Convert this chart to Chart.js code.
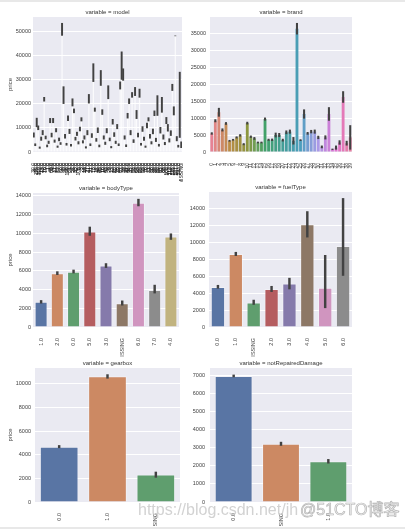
<!DOCTYPE html>
<html>
<head>
<meta charset="utf-8">
<script src="https://cdn.jsdelivr.net/npm/chart.js@4.4.1/dist/chart.umd.min.js"></script>
<style>
  body { margin: 0; background: #fff; width: 405px; height: 529px; position: relative; overflow: hidden; }
  canvas { position: absolute; }
  .strip { position: absolute; left: 0; width: 405px; background: #e8e8e8; }
  .wm { position: absolute; font-size: 16px; line-height: 16px; white-space: nowrap; }
</style>
</head>
<body>
<div class="strip" style="top:0;height:2px"></div>
<canvas id="c-model"></canvas>
<canvas id="c-brand"></canvas>
<canvas id="c-bodyType"></canvas>
<canvas id="c-fuelType"></canvas>
<canvas id="c-gearbox"></canvas>
<canvas id="c-damage"></canvas>
<div class="wm" style="left:138px;top:502px;font-family:'Liberation Sans',Arial,sans-serif;color:rgba(205,205,205,0.9)">https://blog.csdn.net/jh</div>
<div class="wm" style="left:300px;top:502px;font-family:'Liberation Sans','Noto Sans CJK SC',sans-serif;color:#f2f2f2;-webkit-text-stroke:0.7px #b5b5b5">@51CTO博客</div>
<div class="strip" style="top:527px;height:2px"></div>
<script>
const modelLabels = [
  '30.0','40.0','115.0','109.0','110.0','24.0','13.0','26.0','19.0','7.0',
  '1.0','48.0','65.0','4.0','31.0','17.0','29.0','57.0','8.0','60.0',
  '49.0','0.0','66.0','136.0','61.0','5.0','52.0','25.0','33.0','42.0',
  '105.0','6.0','3.0','22.0','14.0','44.0','27.0','11.0','51.0','37.0',
  '18.0','2.0','12.0','45.0','46.0','63.0','16.0','10.0','43.0','58.0',
  '34.0','9.0','15.0','23.0','20.0','62.0','28.0','32.0','67.0','73.0',
  '39.0','38.0','21.0','47.0','36.0','35.0','41.0','50.0','54.0','64.0',
  '55.0','69.0','85.0','56.0','53.0','76.0','70.0','71.0','83.0','78.0',
  '90.0','99.0','86.0','80.0','84.0','95.0','91.0','88.0','98.0','100.0',
  '104.0','112.0','119.0','126.0','141.0','157.0','167.0','193.0','247.0','MISSING'
]
const modelMean = [
  7000, 3000, 12200, 10000, 1800, 5500, 8000, 21800, 6000, 2500,
  4000, 13000, 7000, 13000, 4500, 9000, 2200, 5200, 3500, 50700,
  23500, 6500, 3200, 14000, 8500, 2800, 20500, 17000, 5500, 7500,
  3800, 9500, 13500, 4200, 6000, 1900, 8000, 22000, 3000, 6800,
  32800, 17500, 5000, 9000, 2500, 30600, 16500, 6000, 3600, 8800,
  24700, 5200, 2000, 12500, 7200, 4000, 10500, 3000, 27500, 35700,
  32000, 6000, 2600, 15000, 21000, 8000, 23600, 4500, 25000, 15500,
  7000, 24300, 3200, 9500, 5500, 2200, 11000, 13500, 6500, 3800,
  8500, 16000, 5000, 19200, 2800, 9000, 19500, 6200, 3500, 13000,
  10000, 4800, 7800, 26700, 17000, 48000, 5500, 2400, 19500, 3000
]
const modelErr = [
  900, 400, 1800, 800, 300, 700, 900, 800, 600, 400,
  500, 900, 800, 900, 500, 700, 300, 600, 400, 2500,
  3500, 800, 400, 1000, 900, 400, 1500, 800, 600, 700,
  500, 800, 700, 500, 700, 300, 900, 1800, 400, 800,
  3700, 700, 600, 1000, 400, 3100, 1000, 700, 500, 900,
  2700, 600, 300, 1000, 800, 500, 900, 400, 1500, 5700,
  2400, 700, 400, 1000, 1000, 900, 1000, 600, 1700, 1700,
  800, 1700, 400, 1000, 700, 300, 1000, 700, 800, 500,
  1000, 1000, 700, 4100, 400, 1200, 3100, 900, 500, 1300,
  1400, 700, 1000, 1300, 1700, 0, 900, 400, 13500, 1200
]
const modelTicks = [0, 10000, 20000, 30000, 40000, 50000]

const brandLabels = [
  '0','1','2','3','4','5','6','7','8','9',
  '10','11','12','13','14','15','16','17','18','19',
  '20','21','22','23','24','25','26','27','28','29',
  '30','31','32','33','34','35','36','37','38','39'
]
const brandMean = [
  5450, 9200, 11700, 6500, 8400, 3300, 3600, 4300, 4900, 2300,
  8500, 4500, 4000, 2800, 2800, 9700, 3600, 3600, 5000, 5000,
  3500, 5800, 6000, 3300, 36300, 3500, 11200, 5500, 6000, 6000,
  4300, 1500, 4300, 11200, 800, 1300, 2800, 16200, 2600, 4300
]
const brandErr = [
  250, 350, 1200, 350, 300, 150, 150, 200, 250, 200,
  300, 250, 300, 150, 150, 350, 200, 250, 600, 500,
  300, 450, 500, 1000, 1600, 150, 1250, 300, 400, 500,
  400, 300, 500, 1900, 100, 500, 550, 1600, 600, 3500
]
const brandTicks = [0, 5000, 10000, 15000, 20000, 25000, 30000, 35000]

const bodyTypeLabels = ['1.0', '2.0', '0.0', '5.0', '3.0', 'MISSING', '6.0', '7.0', '4.0']
const bodyTypeMean = [2690, 5730, 5900, 10200, 6550, 2540, 13250, 3940, 9670]
const bodyTypeLo = [2540, 5585, 5760, 9770, 6340, 2330, 12920, 3620, 9340]
const bodyTypeHi = [2830, 5905, 6085, 10670, 6770, 2790, 13640, 4470, 9950]
const bodyTypeTicks = [0, 2000, 4000, 6000, 8000, 10000, 12000, 14000]

const fuelTypeLabels = ['0.0', '1.0', 'MISSING', '2.0', '3.0', '4.0', '5.0', '6.0']
const fuelTypeMean = [4730, 8630, 2900, 4490, 5130, 12130, 4650, 9580]
const fuelTypeLo = [4570, 8430, 2660, 4180, 4490, 10620, 2270, 6090]
const fuelTypeHi = [4930, 8830, 3180, 4810, 5770, 13640, 8470, 15190]
const fuelTypeTicks = [0, 2000, 4000, 6000, 8000, 10000, 12000, 14000]

const gearboxLabels = ['0.0', '1.0', 'MISSING']
const gearboxMean = [4680, 10650, 2330]
const gearboxLo = [4590, 10480, 2090]
const gearboxHi = [4790, 10790, 2540]
const gearboxTicks = [0, 2000, 4000, 6000, 8000, 10000]

const damageLabels = ['0.0', 'MISSING', '1.0']
const damageMean = [6980, 3220, 2250]
const damageLo = [6925, 3130, 2150]
const damageHi = [7035, 3315, 2360]
const damageTicks = [0, 1000, 2000, 3000, 4000, 5000, 6000, 7000]

// seaborn "deep", desaturated like barplot does
const deep = ['#5975a4', '#cc8963', '#5f9e6e', '#b55d60', '#857aab', '#8d7866', '#d095bf', '#8c8c8c', '#c1b37f']
const huslAnchors = ['#f77189', '#ce9032', '#97a431', '#32b166', '#36ada4', '#39a7d0', '#a48cf4', '#f561dd']

const FONT = "'Liberation Sans', Arial, sans-serif"
const TXT = '#404040'
const ERR = '#424242'

function hexRgb(h) {
  return [1, 3, 5].map(i => parseInt(h.slice(i, i + 2), 16) / 255)
}

function desat(rgb, p) {
  const [r, g, b] = rgb
  const mx = Math.max(r, g, b), mn = Math.min(r, g, b)
  const l = (mx + mn) / 2
  if (mx === mn) return rgb
  const d = mx - mn
  let s = l > 0.5 ? d / (2 - mx - mn) : d / (mx + mn)
  let h
  if (mx === r) h = ((g - b) / d + (g < b ? 6 : 0)) / 6
  else if (mx === g) h = ((b - r) / d + 2) / 6
  else h = ((r - g) / d + 4) / 6
  s *= p
  const q = l < 0.5 ? l * (1 + s) : l + s - l * s
  const pp = 2 * l - q
  const f = t => {
    if (t < 0) t += 1
    if (t > 1) t -= 1
    if (t < 1 / 6) return pp + (q - pp) * 6 * t
    if (t < 1 / 2) return q
    if (t < 2 / 3) return pp + (q - pp) * (2 / 3 - t) * 6
    return pp
  }
  return [f(h + 1 / 3), f(h), f(h - 1 / 3)]
}

function brandColor(i) {
  const k = Math.floor(i / 5), t = (i % 5) / 5
  const a = hexRgb(huslAnchors[k]), b = hexRgb(huslAnchors[(k + 1) % 8])
  const c = desat(a.map((v, j) => v + (b[j] - v) * t), 0.75)
  return 'rgb(' + c.map(v => Math.round(v * 255)).join(',') + ')'
}

const plotBg = {
  id: 'plotBg',
  beforeDraw(chart) {
    const { ctx, chartArea: a } = chart
    ctx.save()
    ctx.fillStyle = '#eaeaf2'
    ctx.fillRect(a.left, a.top, a.width, a.height)
    ctx.restore()
  }
}

function panel(id, box, o) {
  const cv = document.getElementById(id)
  const left = box.L - o.yW
  const top = box.T - 11
  const w = o.yW + (box.R - box.L) + 10
  const h = (box.B - top) + o.xH
  cv.style.left = left + 'px'
  cv.style.top = top + 'px'
  cv.width = w
  cv.height = h
  cv.style.width = w + 'px'
  cv.style.height = h + 'px'

  new Chart(cv.getContext('2d'), {
    type: 'bar',
    data: {
      labels: o.labels,
      datasets: [
        {
          data: o.lo.map((v, i) => [v, o.hi[i]]),
          backgroundColor: ERR,
          barThickness: o.errW,
          grouped: false,
          order: 0,
        },
        {
          data: o.mean,
          backgroundColor: o.colors,
          borderColor: o.edge || 'rgba(255,255,255,0.35)',
          borderWidth: o.edgeW === undefined ? 1 : o.edgeW,
          barPercentage: 0.8,
          categoryPercentage: 1,
          grouped: false,
          order: 1,
        },
      ],
    },
    options: {
      responsive: false,
      animation: false,
      devicePixelRatio: 1,
      layout: { padding: { top: 0, left: 0, right: 10, bottom: 0 } },
      plugins: {
        legend: { display: false },
        tooltip: { enabled: false },
        title: {
          display: true,
          text: o.title,
          fullSize: false,
          color: '#333',
          font: { family: FONT, size: 6, weight: 'normal' },
          padding: { top: 3, bottom: 0.8 },
        },
      },
      scales: {
        x: {
          grid: { display: false },
          border: { display: false },
          ticks: {
            autoSkip: false,
            minRotation: 90,
            maxRotation: 90,
            padding: 3,
            color: o.xColor || TXT,
            font: { family: FONT, size: o.xFont || 5.5 },
          },
          afterFit: s => { s.height = o.xH },
        },
        y: {
          min: 0,
          max: o.max,
          grid: { color: '#ffffff', lineWidth: 1, drawTicks: false },
          border: { display: false },
          ticks: {
            padding: o.yPad,
            color: TXT,
            font: { family: FONT, size: 5.5 },
            callback: v => String(v),
          },
          afterBuildTicks: s => { s.ticks = o.ticks.map(v => ({ value: v })) },
          title: {
            display: !!o.yTitle,
            text: 'price',
            color: TXT,
            font: { family: FONT, size: 6 },
            padding: { top: 6.4, bottom: 0 },
          },
          afterFit: s => { s.width = o.yW },
        },
      },
    },
    plugins: [plotBg],
  })
}

panel('c-model', { L: 33, T: 17, R: 182, B: 152 }, {
  title: 'variable = model', labels: modelLabels, mean: modelMean,
  lo: modelMean.map((m, i) => m - modelErr[i]), hi: modelMean.map((m, i) => m + modelErr[i]),
  colors: 'rgba(255,255,255,0.8)', edgeW: 0, errW: 1.3, xColor: '#111', xFont: 5,
  max: 55800, ticks: modelTicks, yW: 33, yPad: 2, xH: 30, yTitle: true,
})

panel('c-brand', { L: 210, T: 17, R: 352, B: 152 }, {
  title: 'variable = brand', labels: brandLabels, mean: brandMean,
  lo: brandMean.map((m, i) => m - brandErr[i]), hi: brandMean.map((m, i) => m + brandErr[i]),
  colors: brandLabels.map((_, i) => brandColor(i)), edgeW: 0, errW: 1.4,
  max: 39750, ticks: brandTicks, yW: 24, yPad: 4, xH: 22, xFont: 5,
})

panel('c-bodyType', { L: 33, T: 193, R: 179, B: 327 }, {
  title: 'variable = bodyType', labels: bodyTypeLabels, mean: bodyTypeMean,
  lo: bodyTypeLo, hi: bodyTypeHi, colors: deep, errW: 1.8,
  max: 14300, ticks: bodyTypeTicks, yW: 33, yPad: 2, xH: 30, yTitle: true,
})

panel('c-fuelType', { L: 209, T: 192, R: 352, B: 327 }, {
  title: 'variable = fuelType', labels: fuelTypeLabels, mean: fuelTypeMean,
  lo: fuelTypeLo, hi: fuelTypeHi, colors: deep, errW: 1.8,
  max: 15950, ticks: fuelTypeTicks, yW: 23, yPad: 4, xH: 30,
})

panel('c-gearbox', { L: 35, T: 368, R: 180, B: 502 }, {
  title: 'variable = gearbox', labels: gearboxLabels, mean: gearboxMean,
  lo: gearboxLo, hi: gearboxHi, colors: deep, errW: 1.8,
  max: 11350, ticks: gearboxTicks, yW: 35, yPad: 4, xH: 24, yTitle: true,
})

panel('c-damage', { L: 210, T: 368, R: 352, B: 502 }, {
  title: 'variable = notRepairedDamage', labels: damageLabels, mean: damageMean,
  lo: damageLo, hi: damageHi, colors: deep, errW: 1.8,
  max: 7420, ticks: damageTicks, yW: 24, yPad: 5, xH: 24,
})
</script>
</body>
</html>
